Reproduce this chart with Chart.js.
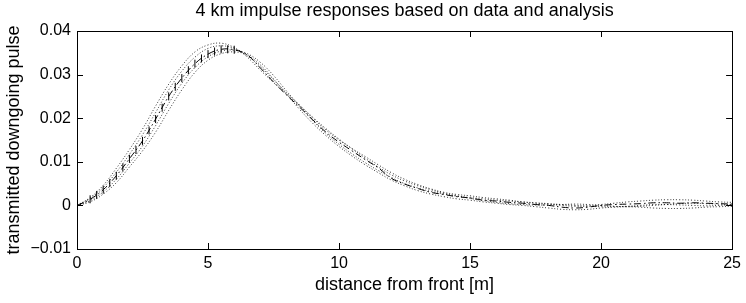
<!DOCTYPE html>
<html>
<head>
<meta charset="utf-8">
<script src="https://cdn.jsdelivr.net/npm/chart.js@4.4.1/dist/chart.umd.min.js"></script>
<style>
  html, body { margin: 0; padding: 0; background: #fff; }
  #wrap { width: 746px; height: 303px; }
</style>
</head>
<body>
<div id="wrap"><canvas id="pulseChart"></canvas></div>
<script>
// distance from front [m], every 0.5 m
const distance = [
    0, 0.5, 1, 1.5, 2, 2.5, 3, 3.5, 4, 4.5, 5, 5.5, 6, 6.5, 7, 7.5, 8, 8.5, 9, 9.5,
    10, 10.5, 11, 11.5, 12, 12.5, 13, 13.5, 14, 14.5, 15, 15.5, 16, 16.5, 17, 17.5,
    18, 18.5, 19, 19.5, 20, 20.5, 21, 21.5, 22, 22.5, 23, 23.5, 24, 24.5, 25
];

// analysis (dash-dot)
const analysis = [
    0, 0.0014, 0.0036, 0.0068, 0.0107, 0.0148, 0.0198, 0.025, 0.0292, 0.0325, 0.0347, 0.0358, 0.0357,
    0.0345, 0.0315, 0.0283, 0.0253, 0.0225, 0.0196, 0.0168, 0.0145, 0.0125, 0.0105, 0.0086,
    0.0062, 0.0049, 0.0039, 0.003, 0.0025, 0.002, 0.0017, 0.0012, 0.001, 0.0007, 0.0005, 0.0002,
    0, -0.0004, -0.0006, -0.0004, 0, 0.0002, 0.0003, 0.0004, 0.0006, 0.0006, 0.0005, 0.0006,
    0.0005, 0.0004, 0.0003
];

// data realisations (dotted)
const dataA = [
    0, 0.0018, 0.0046, 0.0085, 0.0128, 0.0175, 0.0228, 0.0278, 0.032, 0.0352, 0.0368, 0.0372, 0.0362,
    0.034, 0.031, 0.0282, 0.0255, 0.0228, 0.02, 0.0173, 0.015, 0.013, 0.0112, 0.0093, 0.0075,
    0.006, 0.0048, 0.0038, 0.003, 0.0025, 0.0022, 0.0018, 0.0015, 0.0012, 0.0008, 0.0005,
    0.0003, 0, -0.0002, -0.0001, 0.0002, 0.0005, 0.0008, 0.001, 0.0012, 0.0013, 0.0013,
    0.0012, 0.001, 0.0008, 0.0007
];
const dataB = [
    0, 0.0008, 0.0026, 0.0052, 0.0088, 0.0125, 0.0168, 0.0218, 0.0265, 0.0305, 0.0333, 0.0348,
    0.0352, 0.0345, 0.0322, 0.029, 0.0255, 0.022, 0.0188, 0.016, 0.0135, 0.0113, 0.0093,
    0.0075, 0.0058, 0.0045, 0.0034, 0.0026, 0.002, 0.0015, 0.0012, 0.0008, 0.0005, 0.0002, 0,
    -0.0003, -0.0006, -0.0009, -0.001, -0.0009, -0.0006, -0.0004, -0.0003, -0.0004, -0.0006,
    -0.0007, -0.0007, -0.0006, -0.0004, -0.0003, -0.0002
];
const dataC = [
    0, 0.0016, 0.0041, 0.0076, 0.0117, 0.0162, 0.0213, 0.0265, 0.0308, 0.034, 0.036, 0.0366,
    0.036, 0.0343, 0.0318, 0.0288, 0.0258, 0.023, 0.0202, 0.0176, 0.0152, 0.013, 0.0108,
    0.0088, 0.007, 0.0056, 0.0045, 0.0036, 0.0028, 0.0022, 0.0016, 0.0011, 0.0007, 0.0004,
    0.0002, 0.0001, 0.0001, 0.0002, 0.0003, 0.0002, 0, -0.0002, -0.0003, -0.0002, 0, 0.0002,
    0.0004, 0.0005, 0.0004, 0.0003, 0.0002
];
const dataD = [
    0, 0.0011, 0.0031, 0.006, 0.0097, 0.0136, 0.0183, 0.0234, 0.028, 0.0316, 0.0341, 0.0354,
    0.0356, 0.0348, 0.0328, 0.0298, 0.0262, 0.0228, 0.0194, 0.0165, 0.014, 0.0118, 0.0098,
    0.008, 0.0064, 0.005, 0.004, 0.0032, 0.0026, 0.0021, 0.0018, 0.0015, 0.0012, 0.001,
    0.0008, 0.0006, 0.0004, 0.0002, 0, -0.0002, -0.0003, -0.0003, -0.0002, 0, 0.0002, 0.0002,
    0.0001, 0, -0.0001, 0, 0.0001
];

// short vertical marks on the rising part
const markDistance = [
    0.5, 0.75, 1, 1.25, 1.5, 1.75, 2, 2.25, 2.5, 2.75, 3, 3.25, 3.5, 3.75, 4, 4.25, 4.5,
    4.75, 5, 5.25, 5.5, 5.75, 6
];
const markValues = [
    0.0014, 0.0024, 0.0036, 0.0051, 0.0068, 0.0087, 0.0107, 0.0127, 0.0148, 0.0172, 0.0198,
    0.0224, 0.025, 0.0272, 0.0292, 0.031, 0.0325, 0.0337, 0.0347, 0.0353, 0.0358, 0.0358, 0.0357
];

const xTicks = [0, 5, 10, 15, 20, 25];
const yTicks = [-0.01, 0, 0.01, 0.02, 0.03, 0.04];
const yTickLabels = ['\u22120.01', '0', '0.01', '0.02', '0.03', '0.04'];

const FONT = 'Liberation Sans, Arial, Helvetica, sans-serif';

function pts(xs, ys) {
    return xs.map((x, i) => ({ x: x, y: ys[i] }));
}

function dotted(values) {
    return {
        data: pts(distance, values),
        borderColor: '#000',
        borderWidth: 0.8,
        borderDash: [1, 2],
        pointRadius: 0,
        tension: 0.4,
        fill: false
    };
}

// box around the plot with ticks pointing inwards (matlab style)
const boxPlugin = {
    id: 'box',
    afterDatasetsDraw(chart) {
        const { ctx, chartArea: a, scales } = chart;
        ctx.save();
        ctx.strokeStyle = '#000';
        ctx.lineWidth = 1;
        ctx.beginPath();
        xTicks.forEach(v => {
            const px = Math.round(scales.x.getPixelForValue(v)) + 0.5;
            ctx.moveTo(px, a.bottom); ctx.lineTo(px, a.bottom - 6);
            ctx.moveTo(px, a.top); ctx.lineTo(px, a.top + 6);
        });
        yTicks.forEach(v => {
            const py = Math.round(scales.y.getPixelForValue(v)) + 0.5;
            ctx.moveTo(a.left, py); ctx.lineTo(a.left + 6, py);
            ctx.moveTo(a.right, py); ctx.lineTo(a.right - 6, py);
        });
        ctx.stroke();
        ctx.strokeRect(Math.round(a.left) + 0.5, Math.round(a.top) + 0.5,
            Math.round(a.right - a.left), Math.round(a.bottom - a.top));
        ctx.restore();
    }
};

function initializePulseChart() {
    const ctx = document.getElementById('pulseChart');
    if (!ctx) return;

    new Chart(ctx, {
        type: 'line',
        data: {
            datasets: [
                dotted(dataA),
                dotted(dataB),
                dotted(dataC),
                dotted(dataD),
                {
                    data: pts(distance, analysis),
                    borderColor: '#000',
                    borderWidth: 1,
                    borderDash: [7, 3, 1.5, 3],
                    pointRadius: 0,
                    tension: 0.4,
                    fill: false
                },
                {
                    data: pts(markDistance, markValues),
                    showLine: false,
                    pointStyle: 'line',
                    rotation: 90,
                    pointRadius: 4,
                    borderColor: '#000',
                    borderWidth: 1
                }
            ]
        },
        options: {
            responsive: true,
            maintainAspectRatio: false,
            animation: false,
            layout: { padding: { top: 0, right: 7, bottom: 0, left: 0 } },
            plugins: {
                legend: { display: false },
                tooltip: { enabled: false },
                title: {
                    display: true,
                    fullSize: false,   // centre over the plot box
                    text: '4 km impulse responses based on data and analysis',
                    color: '#000',
                    font: { family: FONT, size: 18, weight: 'normal' },
                    padding: { top: 0, bottom: 9.4 }
                }
            },
            scales: {
                x: {
                    type: 'linear',
                    min: 0,
                    max: 25,
                    afterBuildTicks: (s) => { s.ticks = xTicks.map(v => ({ value: v })); },
                    grid: { display: false, drawTicks: false },
                    border: { display: false },
                    ticks: {
                        color: '#000',
                        padding: 5,
                        maxRotation: 0,
                        font: { family: FONT, size: 16 }
                    },
                    title: {
                        display: true,
                        text: 'distance from front [m]',
                        color: '#000',
                        font: { family: FONT, size: 18 },
                        padding: { top: 0, bottom: 7 }
                    },
                    afterFit: (s) => { s.height = 54; }
                },
                y: {
                    min: -0.01,
                    max: 0.04,
                    afterBuildTicks: (s) => { s.ticks = yTicks.map(v => ({ value: v })); },
                    grid: { display: false, drawTicks: false },
                    border: { display: false },
                    ticks: {
                        color: '#000',
                        padding: 6,
                        font: { family: FONT, size: 16 },
                        callback: (value) => {
                            const i = yTicks.findIndex(t => Math.abs(t - value) < 1e-9);
                            return i >= 0 ? yTickLabels[i] : '';
                        }
                    },
                    title: {
                        display: true,
                        text: 'transmitted downgoing pulse',
                        color: '#000',
                        font: { family: FONT, size: 18 },
                        padding: { top: 3, bottom: 0 }
                    },
                    afterFit: (s) => { s.width = 77; }
                }
            }
        },
        plugins: [boxPlugin]
    });
}

document.addEventListener('DOMContentLoaded', function () {
    initializePulseChart();
});
</script>
</body>
</html>
